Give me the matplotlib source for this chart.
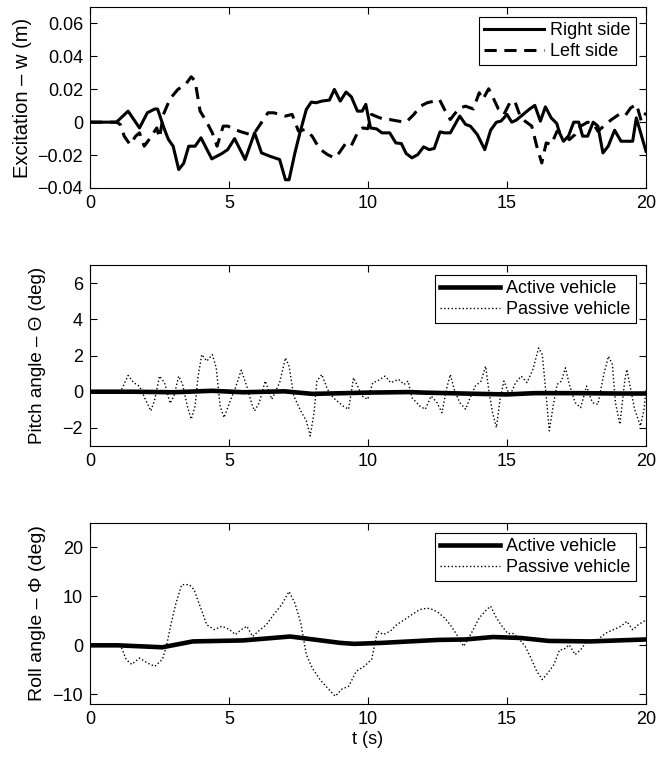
import matplotlib
matplotlib.use('Agg')
import matplotlib.pyplot as plt

plt.rcParams['font.family'] = ['Liberation Sans', 'DejaVu Sans']
plt.rcParams['font.size'] = 13

# excitation, right side (t in s, w in m)
t_right = [0, 0.95, 1.37, 1.78, 2.06, 2.33, 2.43, 2.68, 2.82, 2.99, 3.19, 3.37, 3.55, 3.78, 3.99,
           4.38, 4.75, 4.95, 5.2, 5.58, 5.92, 6.17, 6.47, 6.82, 7.03, 7.16, 7.37, 7.55, 7.78, 7.96,
           8.13, 8.34, 8.61, 8.79, 9.0, 9.21, 9.4, 9.62, 9.79, 9.92, 10.09, 10.31, 10.5, 10.78, 11.0,
           11.2, 11.37, 11.58, 11.79, 12.0, 12.2, 12.38, 12.59, 12.75, 12.96, 13.3, 13.51, 13.68,
           13.93, 14.2, 14.41, 14.62, 14.78, 15.0, 15.17, 15.33, 15.58, 15.79, 16.0, 16.2, 16.38,
           16.59, 16.79, 16.89, 17.03, 17.21, 17.4, 17.58, 17.72, 17.9, 18.1, 18.27, 18.45, 18.64,
           18.87, 19.1, 19.31, 19.52, 19.65, 20.0]
w_right = [0, 0, 0.0067, -0.0035, 0.0057, 0.008, 0.008, -0.0045, -0.0105, -0.0146, -0.0288, -0.025,
           -0.0146, -0.0146, -0.0095, -0.0223, -0.019, -0.0167, -0.010, -0.0227, -0.0065, -0.0187,
           -0.0207, -0.0227, -0.035, -0.035, -0.0187, -0.0065, 0.0077, 0.0122, 0.0118, 0.0128,
           0.0134, 0.0199, 0.0128, 0.0183, 0.0154, 0.0067, 0.0067, 0.0108, -0.0035, -0.0041,
           -0.0065, -0.0065, -0.0126, -0.013, -0.019, -0.0217, -0.0197, -0.015, -0.0167, -0.016,
           -0.0059, -0.0065, -0.0065, 0.0037, -0.0014, -0.0024, -0.0075, -0.0167, -0.0049, 0.0,
           0.0006, 0.0047, 0.0, 0.0012, 0.0047, 0.0077, 0.0102, 0.0006, 0.0093, 0.0026, -0.0008,
           -0.0065, -0.0116, -0.0085, 0.0, 0.0, -0.0085, -0.0085, 0.0, -0.0024, -0.0187, -0.0146,
           -0.0049, -0.0116, -0.0116, -0.0116, 0.0026, -0.0177]

# excitation, left side
t_left = [0, 0.95, 1.09, 1.23, 1.44, 1.64, 1.78, 1.95, 2.17, 2.4, 2.5, 2.64, 2.88, 3.16, 3.44,
          3.64, 3.78, 3.96, 4.2, 4.4, 4.57, 4.79, 4.96, 5.2, 5.48, 5.76, 5.92, 6.2, 6.4, 6.61, 6.82,
          7.03, 7.27, 7.5, 7.72, 7.99, 8.13, 8.3, 8.54, 8.79, 8.96, 9.21, 9.4, 9.62, 9.81, 9.99,
          10.13, 10.34, 10.59, 10.78, 11.1, 11.37, 11.65, 11.88, 12.13, 12.38, 12.57, 12.75, 12.96,
          13.1, 13.3, 13.51, 13.79, 14.0, 14.13, 14.34, 14.5, 14.69, 14.89, 15.1, 15.28, 15.45,
          15.65, 15.89, 16.07, 16.25, 16.41, 16.59, 16.8, 17.03, 17.24, 17.45, 17.65, 17.9, 18.1,
          18.27, 18.48, 18.76, 19.03, 19.24, 19.45, 19.66, 19.83, 20.0]
w_left = [0, 0, -0.0014, -0.0085, -0.0136, -0.0085, -0.0065, -0.0146, -0.0095, -0.0035, -0.0095,
          0.0047, 0.0142, 0.0199, 0.023, 0.0276, 0.025, 0.0067, 0.0, -0.0065, -0.0146, -0.0024,
          -0.0024, -0.0045, -0.0061, -0.0075, -0.0065, 0.0006, 0.0057, 0.0057, 0.0047, 0.0037,
          0.0047, -0.0055, -0.0045, -0.0085, -0.0126, -0.0167, -0.0197, -0.0217, -0.0187, -0.0126,
          -0.0142, -0.0065, -0.0035, -0.004, 0.0047, 0.0032, 0.0016, 0.0016, 0.0006, 0.0, 0.0047,
          0.0097, 0.0118, 0.0128, 0.0138, 0.0077, 0.0016, 0.0047, 0.0087, 0.0097, 0.008, 0.0179,
          0.0138, 0.0203, 0.0148, 0.008, 0.0047, 0.0118, 0.0128, 0.0047, 0.0006, -0.0024, -0.0146,
          -0.0248, -0.0126, -0.0136, -0.0055, -0.0065, -0.0106, -0.0075, -0.0024, 0.0, -0.0008,
          -0.0055, -0.0024, 0.0016, 0.0047, 0.0037, 0.0087, 0.0108, 0.0006, 0.0057]

# pitch angle (deg)
t_pitch_act = [0, 1.5, 3.0, 4.4, 5.5, 7.0, 8.0, 10.0, 11.5, 12.0, 14.0, 15.0, 16.0, 17.5, 19.0, 20.0]
pitch_act = [0, 0, -0.03, 0.05, -0.03, 0.02, -0.12, -0.05, -0.02, -0.05, -0.12, -0.15, -0.08,
             -0.08, -0.1, -0.1]
t_pitch_pas = [0, 1.1, 1.37, 1.57, 1.78, 1.99, 2.19, 2.33, 2.5, 2.68, 2.88, 3.02, 3.19, 3.33,
               3.5, 3.64, 3.78, 3.88, 4.02, 4.2, 4.4, 4.54, 4.68, 4.82, 5.02, 5.23, 5.44, 5.64,
               5.81, 5.92, 6.09, 6.3, 6.54, 6.82, 7.03, 7.16, 7.33, 7.58, 7.78, 7.92, 8.06, 8.16,
               8.34, 8.54, 8.75, 9.1, 9.3, 9.48, 9.65, 9.79, 9.99, 10.17, 10.34, 10.61, 10.82, 11.1,
               11.3, 11.44, 11.58, 11.86, 12.06, 12.27, 12.48, 12.66, 12.82, 12.96, 13.1, 13.3,
               13.51, 13.65, 13.86, 14.07, 14.23, 14.34, 14.48, 14.62, 14.75, 14.89, 15.1, 15.31,
               15.51, 15.72, 15.93, 16.14, 16.27, 16.41, 16.52, 16.66, 16.8, 16.96, 17.1, 17.24,
               17.45, 17.65, 17.86, 18.07, 18.27, 18.48, 18.65, 18.79, 18.9, 19.06, 19.24, 19.31,
               19.45, 19.59, 19.8, 19.93, 20.0]
pitch_pas = [0, 0, 0.9, 0.5, 0.3, -0.42, -1.06, -0.42, 0.86, 0.5, -0.64, -0.24, 0.86, 0.4, -0.79,
             -1.52, -0.79, 0.77, 2.05, 1.69, 2.05, 1.32, -0.79, -1.43, -0.6, 0.22, 1.19, 0.3, -0.64,
             -1.06, -0.6, 0.59, -0.42, 0.5, 1.87, 1.41, -0.24, -1.06, -1.61, -2.44, -1.16, 0.59,
             0.95, 0.13, -0.33, -0.79, -0.97, 0.77, 0.22, -0.24, -0.42, 0.5, 0.59, 0.86, 0.5, 0.68,
             0.4, 0.59, -0.33, -0.79, -0.97, -0.24, -0.6, -1.16, 0.13, 0.95, 0.13, -0.6, -0.97,
             -0.42, 0.31, 0.59, 1.41, 0.13, -1.16, -1.98, -0.42, 0.59, -0.24, 0.5, 0.86, 0.5, 1.23,
             2.42, 2.05, -0.24, -2.16, -0.79, 0.4, 0.59, 1.32, 0.4, -0.6, -0.88, 0.31, -0.6, -0.7,
             0.95, 1.96, 1.5, -0.6, -1.8, 0.68, 1.23, 0.13, -0.97, -1.89, -0.97, 0.13]

# roll angle (deg)
t_roll_act = [0, 1.0, 2.6, 3.7, 5.5, 7.2, 9.0, 9.5, 10.5, 12.5, 13.5, 14.5, 15.5, 16.5, 18.0, 20.0]
roll_act = [0, 0, -0.4, 0.8, 1.0, 1.8, 0.5, 0.3, 0.5, 1.1, 1.2, 1.7, 1.5, 0.9, 0.8, 1.2]
t_roll_pas = [0, 1.1, 1.3, 1.5, 1.78, 2.06, 2.33, 2.6, 2.75, 2.88, 3.09, 3.3, 3.57, 3.74, 3.92,
              4.2, 4.47, 4.75, 5.02, 5.23, 5.44, 5.64, 5.85, 6.06, 6.34, 6.61, 6.89, 7.16, 7.37,
              7.58, 7.78, 7.99, 8.27, 8.54, 8.82, 9.07, 9.3, 9.58, 9.86, 10.13, 10.34, 10.55, 10.8,
              11.03, 11.3, 11.58, 11.86, 12.13, 12.34, 12.55, 12.75, 12.96, 13.17, 13.44, 13.72,
              14.0, 14.27, 14.41, 14.62, 14.82, 15.03, 15.24, 15.45, 15.65, 15.86, 16.07, 16.27,
              16.48, 16.69, 16.89, 17.03, 17.24, 17.45, 17.65, 17.86, 18.14, 18.34, 18.55, 18.83,
              19.1, 19.31, 19.52, 19.72, 20.0]
roll_pas = [0, 0, -2.9, -3.9, -2.6, -3.6, -4.3, -2.9, -0.2, 3.5, 8.6, 12.4, 12.4, 11.4, 8.6, 4.2,
            3.2, 3.9, 3.2, 2.2, 3.2, 3.9, 1.8, 2.9, 4.2, 6.3, 8.3, 11.0, 8.6, 4.6, -1.9, -4.6,
            -7.0, -8.7, -10.4, -8.9, -8.4, -5.3, -4.3, -2.9, 2.9, 2.2, 2.9, 4.2, 5.2, 6.3, 7.3,
            7.6, 7.3, 6.6, 5.6, 4.2, 2.4, -0.2, 2.5, 5.6, 7.3, 8.0, 5.6, 3.9, 2.4, 2.4, 1.2, -0.2,
            -2.6, -5.3, -7.0, -5.6, -3.9, -0.9, -0.9, 0.1, -1.9, -0.9, 0.8, 0.5, 1.5, 2.5, 3.2,
            3.9, 4.9, 3.2, 4.2, 5.2]

x_ticks = [0, 5, 10, 15, 20]

fig = plt.figure(figsize=(6.59, 7.58), dpi=100)
ax1 = fig.add_axes([0.1366, 0.752, 0.8437, 0.2388])
ax2 = fig.add_axes([0.1366, 0.4116, 0.8437, 0.2388])
ax3 = fig.add_axes([0.1366, 0.0712, 0.8437, 0.2388])

ax1.plot(t_right, w_right, 'k-', lw=2.2, label='Right side')
ax1.plot(t_left, w_left, 'k--', lw=2.2, dashes=(4, 2.5), label='Left side')
ax1.set_ylim(-0.04, 0.07)
ax1.set_yticks([-0.04, -0.02, 0, 0.02, 0.04, 0.06])
ax1.set_yticklabels(['\u22120.04', '\u22120.02', '0', '0.02', '0.04', '0.06'])
ax1.set_ylabel('Excitation \u2013 w (m)', labelpad=4, fontsize=14.5)

ax2.plot(t_pitch_act, pitch_act, 'k-', lw=3.3, label='Active vehicle')
ax2.plot(t_pitch_pas, pitch_pas, 'k:', lw=1.0, label='Passive vehicle')
ax2.set_ylim(-3, 7)
ax2.set_yticks([-2, 0, 2, 4, 6])
ax2.set_ylabel('Pitch angle \u2013 \u0398 (deg)', labelpad=12, fontsize=13.5)

ax3.plot(t_roll_act, roll_act, 'k-', lw=3.3, label='Active vehicle')
ax3.plot(t_roll_pas, roll_pas, 'k:', lw=1.0, label='Passive vehicle')
ax3.set_ylim(-12, 25)
ax3.set_yticks([-10, 0, 10, 20])
ax3.set_ylabel('Roll angle \u2013 \u03a6 (deg)', labelpad=5, fontsize=14)
ax3.set_xlabel('t (s)', labelpad=2)

for ax in (ax1, ax2, ax3):
    ax.set_xlim(0, 20)
    ax.set_xticks(x_ticks)
    ax.tick_params(direction='in', top=True, right=True, length=5, pad=5, labelsize=13)
    for s in ax.spines.values():
        s.set_linewidth(0.8)
    leg = ax.legend(loc='upper right', fancybox=False, edgecolor='k', framealpha=1,
                    handlelength=3.3, borderaxespad=0.55, fontsize=13,
                    borderpad=0.3, labelspacing=0.2, handletextpad=0.35)
    leg.get_frame().set_linewidth(0.8)

fig.savefig('out.png', dpi=100)
